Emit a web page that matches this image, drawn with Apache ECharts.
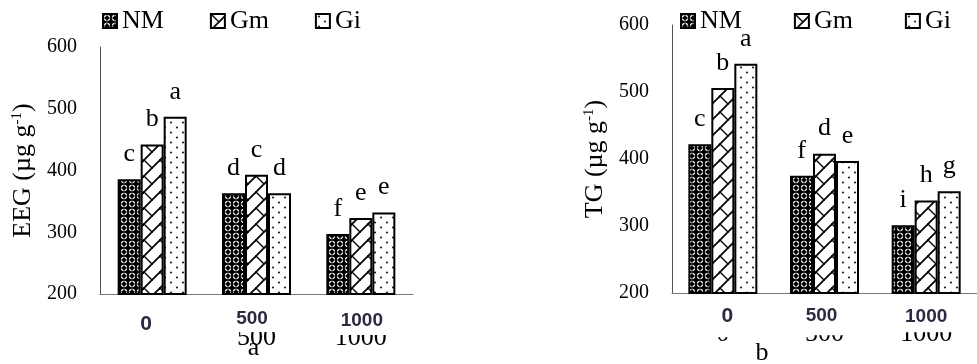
<!DOCTYPE html>
<html><head><meta charset="utf-8">
<script src="https://cdn.jsdelivr.net/npm/echarts@6/dist/echarts.min.js"></script>
<style>html,body{margin:0;padding:0;background:#fff}#c{width:977px;height:364px}</style>
</head><body><div id="c"></div>
<script>
// ---- data ----
const categories = ['0', '500', '1000'];
const seriesNames = ['NM', 'Gm', 'Gi'];
const eegNM = [386, 363, 297];
const eegGm = [442, 393, 323];
const eegGi = [487, 363, 332];
const tgNM = [422, 375, 301];
const tgGm = [506, 408, 338];
const tgGi = [542, 397, 352];
const eegLettersNM = ['c', 'd', 'f'];
const eegLettersGm = ['b', 'c', 'e'];
const eegLettersGi = ['a', 'd', 'e'];
const tgLettersNM = ['c', 'f', 'i'];
const tgLettersGm = ['b', 'd', 'h'];
const tgLettersGi = ['a', 'e', 'g'];
const yMin = 200, yMax = 600, yStep = 100;

// ---- patterns ----
function tile(w, h, draw) {
  const c = document.createElement('canvas');
  c.width = w; c.height = h;
  draw(c.getContext('2d'), w, h);
  return { image: c, repeat: 'repeat' };
}
const patNM = tile(8, 8, (g) => {
  g.fillStyle = '#000'; g.fillRect(0, 0, 8, 8);
  g.strokeStyle = '#fff'; g.lineWidth = 1.1;
  g.beginPath(); g.arc(4, 4, 2.6, 0, Math.PI * 2); g.stroke();
  g.fillStyle = '#000'; g.fillRect(3.5, 1, 1, 6); g.fillRect(1, 3.5, 6, 1);
});
const patGm = tile(16, 16, (g) => {
  g.fillStyle = '#fff'; g.fillRect(0, 0, 16, 16);
  g.strokeStyle = '#000'; g.lineCap = 'square';
  g.lineWidth = 1.8;
  for (const o of [-16, 0, 16]) {
    g.beginPath(); g.moveTo(0 + o, 16); g.lineTo(16 + o, 0); g.stroke();
  }
  g.lineWidth = 1.3;
  for (const o of [[0, 0], [16, 0], [0, 16], [16, 16], [-16, 0], [0, -16]]) {
    g.beginPath(); g.moveTo(o[0], o[1]); g.lineTo(o[0] + 8, o[1] + 8); g.stroke();
  }
});
const patGi = tile(12, 10, (g) => {
  g.fillStyle = '#fff'; g.fillRect(0, 0, 12, 10);
  g.fillStyle = '#222';
  g.beginPath(); g.arc(3, 2.5, 1.1, 0, Math.PI * 2); g.fill();
  g.beginPath(); g.arc(9, 7.5, 1.1, 0, Math.PI * 2); g.fill();
});
const patterns = [patNM, patGm, patGi];

const serif = 'Liberation Serif';
const sans = 'Liberation Sans';
const boldColor = '#2a2a40';

function barSeries(name, data, letters, pat, axisIdx) {
  return {
    type: 'bar', name: name, data: data,
    xAxisIndex: axisIdx, yAxisIndex: axisIdx / 2,
    barWidth: 23, barGap: '0%',
    itemStyle: { color: pat, borderColor: '#000', borderWidth: 2 },
    label: {
      show: true, position: 'top', distance: 12,
      fontFamily: serif, fontSize: 26, lineHeight: 26, color: '#000',
      formatter: (p) => letters[p.dataIndex]
    },
    emphasis: { disabled: true }
  };
}

function timesAxis(grid, margin) {
  return {
    type: 'category', gridIndex: grid, data: categories, position: 'bottom',
    axisLine: { show: true, lineStyle: { color: '#777', width: 1 } },
    axisTick: { show: false },
    axisLabel: { interval: 0, fontFamily: serif, fontSize: 26, lineHeight: 26, color: '#000', margin: margin }
  };
}
function richBold(p, fs) {
  return { fontFamily: sans, fontWeight: 'bold', fontSize: fs, color: boldColor,
           backgroundColor: '#fff', padding: p };
}
function boldAxis(grid, prefix, rich) {
  return {
    type: 'category', gridIndex: grid, data: categories, position: 'bottom', z: 5,
    axisLine: { show: false }, axisTick: { show: false },
    axisLabel: {
      interval: 0, hideOverlap: false,
      margin: 2, fontFamily: sans, fontWeight: 'bold', fontSize: 19, color: boldColor,
      formatter: (v, i) => '{' + prefix + i + '|' + v + '}',
      rich: rich
    }
  };
}
function valAxis(grid, name) {
  return {
    type: 'value', gridIndex: grid, min: yMin, max: yMax, interval: yStep,
    axisLine: { show: true, lineStyle: { color: '#555', width: 1 } },
    axisTick: { show: false }, splitLine: { show: false },
    axisLabel: { fontFamily: serif, fontSize: 20, color: '#000', margin: 23 },
    name: name, nameLocation: 'middle', nameGap: 64, nameRotate: 90,
    nameTextStyle: {
      fontFamily: serif, fontSize: 26, lineHeight: 26, color: '#000',
      rich: { sup: { fontFamily: serif, fontSize: 15, lineHeight: 15, color: '#000', verticalAlign: 'top' } }
    }
  };
}

const legendBase = {
  top: 8, padding: 0, itemWidth: 14, itemHeight: 14, icon: 'rect', selectedMode: false,
  itemStyle: { borderColor: '#000', borderWidth: 2 },
  textStyle: { fontFamily: serif, fontSize: 26, lineHeight: 26, color: '#000' },
  data: seriesNames
};

const option = {
  animation: false,
  backgroundColor: '#fff',
  legend: [
    Object.assign({}, legendBase, { left: 102, itemGap: 46 }),
    Object.assign({}, legendBase, { left: 680, itemGap: 52 })
  ],
  grid: [
    { left: 100, top: 47, width: 313, height: 247, containLabel: false },
    { left: 672, top: 25, width: 316, height: 268, containLabel: false }
  ],
  xAxis: [
    timesAxis(0, 31),
    boldAxis(0, 'l', {
      l0: richBold([17.5, 16, 14.5, 4], 21),
      l1: richBold([13.5, 11, 3.5, 2], 19),
      l2: richBold([15.5, 5, 4.5, 7], 19)
    }),
    timesAxis(1, 28.5),
    boldAxis(1, 'r', {
      r0: richBold([10.8, 3, 10.5, 12], 21),
      r1: richBold([10.8, 9, 10.5, 3], 19),
      r2: richBold([11.8, 6, 6.5, 6], 19)
    })
  ],
  yAxis: [
    valAxis(0, 'EEG (µg g{sup|-1})'),
    valAxis(1, 'TG (µg g{sup|-1})')
  ],
  series: [
    barSeries('NM', eegNM, eegLettersNM, patterns[0], 0),
    barSeries('Gm', eegGm, eegLettersGm, patterns[1], 0),
    barSeries('Gi', eegGi, eegLettersGi, patterns[2], 0),
    barSeries('NM', tgNM, tgLettersNM, patterns[0], 2),
    barSeries('Gm', tgGm, tgLettersGm, patterns[1], 2),
    barSeries('Gi', tgGi, tgLettersGi, patterns[2], 2)
  ],
  graphic: [
    { type: 'text', x: 253.5, y: 348, z: 10,
      style: { text: 'a', font: '26px "Liberation Serif"', fill: '#000', align: 'center', verticalAlign: 'middle', textAlign: 'center', textVerticalAlign: 'middle' } },
    { type: 'text', x: 762, y: 353, z: 10,
      style: { text: 'b', font: '26px "Liberation Serif"', fill: '#000', align: 'center', verticalAlign: 'middle', textAlign: 'center', textVerticalAlign: 'middle' } }
  ]
};

const chart = echarts.init(document.getElementById('c'), null, { renderer: 'canvas' });
chart.setOption(option);
</script>
</body></html>
